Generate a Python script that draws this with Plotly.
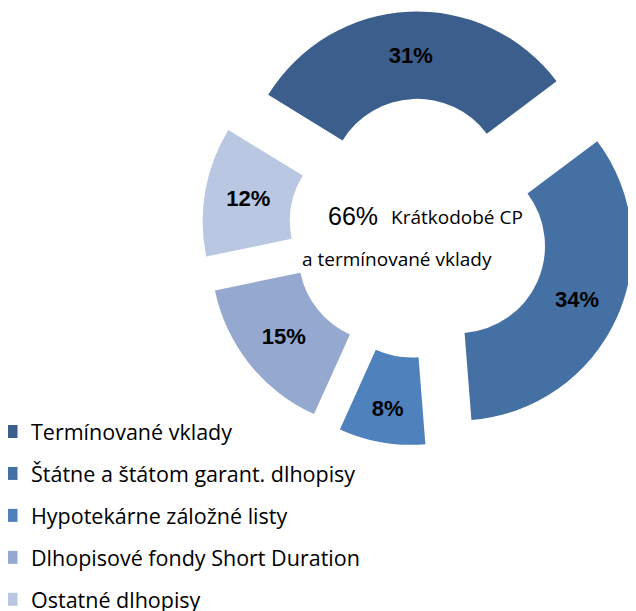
import plotly.graph_objects as go

# ---- data ----
labels = [
    "Termínované vklady",
    "Štátne a štátom garant. dlhopisy",
    "Hypotekárne záložné listy",
    "Dlhopisové fondy Short Duration",
    "Ostatné dlhopisy",
]
values = [31, 34, 8, 15, 12]
colors = ["#3B5E8C", "#4470A4", "#4F81BD", "#95A9D0", "#B9C7E2"]
center_pct = "66%"
center_line1 = "Krátkodobé CP"
center_line2 = "a termínované vklady"

OFF = 8  # page body margin offset
W, H = 636 - OFF, 611 - OFF
FONT = "Liberation Sans, Arial, sans-serif"
FONT2 = "Open Sans, Liberation Sans, sans-serif"


def px(x):
    """page pixel x -> paper fraction"""
    return (x - OFF) / W


def py(y):
    """page pixel y -> paper fraction"""
    return 1 - (y - OFF) / H


fig = go.Figure()

fig.add_trace(go.Pie(
    labels=labels,
    values=values,
    sort=False,
    direction="clockwise",
    rotation=301.5,
    hole=0.5,
    pull=[0.2436] * len(values),
    marker=dict(colors=colors, line=dict(width=0)),
    texttemplate="%{percent:.0%}",
    textposition="inside",
    insidetextorientation="horizontal",
    textfont=dict(family=FONT, size=22, color="black", weight="bold"),
    domain=dict(x=[0.3089, 1.0], y=[0.2745, 0.9942]),
    showlegend=False,
    hoverinfo="label+percent",
))

# legend entries (one group per category so spacing can be matched)
for lab, col in zip(labels, colors):
    fig.add_trace(go.Scatter(
        x=[None], y=[None], mode="markers", name=lab,
        legendgroup=lab,
        marker=dict(symbol="square", size=13, color=col),
        hoverinfo="skip",
    ))

fig.add_annotation(x=px(353), y=py(216), xref="paper", yref="paper",
                   xanchor="center", yanchor="middle",
                   text=center_pct, showarrow=False,
                   font=dict(family=FONT, size=25, color="black"))
fig.add_annotation(x=px(457), y=py(217), xref="paper", yref="paper",
                   xanchor="center", yanchor="middle",
                   text=center_line1, showarrow=False,
                   font=dict(family=FONT2, size=19, color="black"))
fig.add_annotation(x=px(397), y=py(259), xref="paper", yref="paper",
                   xanchor="center", yanchor="middle",
                   text=center_line2, showarrow=False,
                   font=dict(family=FONT2, size=19, color="black"))

fig.update_layout(
    width=W, height=H,
    margin=dict(l=0, r=0, t=0, b=0, autoexpand=False),
    paper_bgcolor="white",
    plot_bgcolor="white",
    xaxis=dict(visible=False),
    yaxis=dict(visible=False),
    legend=dict(
        x=-17 / W, y=py(411), xanchor="left", yanchor="top",
        font=dict(family=FONT2, size=21.5, color="black"),
        tracegroupgap=11,
        bgcolor="rgba(0,0,0,0)",
    ),
)

fig.write_html("out.html")
